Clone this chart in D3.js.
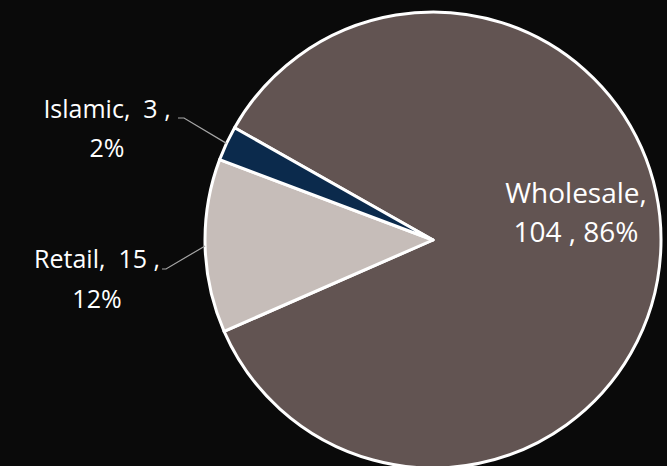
<!DOCTYPE html>
<html><head><meta charset="utf-8">
<script src="https://cdn.jsdelivr.net/npm/d3@7"></script>
<style>html,body{margin:0;padding:0;background:#0a0a0a;}svg{display:block;}</style>
</head><body>
<svg id="c" width="667" height="466"></svg>
<script>
const categories = ["Wholesale", "Retail", "Islamic"];
const values = [104, 15, 3];
const percents = ["86%", "12%", "2%"];
const colors = ["#625452", "#c6bdb9", "#0b2a4c"];

const svg = d3.select("#c");
svg.append("rect").attr("width", 667).attr("height", 466).attr("fill", "#0a0a0a");
const cx = 433, cy = 240, R = 228;
const g = svg.append("g").attr("transform", `translate(${cx},${cy})`);
const pie = d3.pie().sort(null).startAngle(-60.5 * Math.PI / 180).endAngle((360 - 60.5) * Math.PI / 180);
const arcs = pie(values);
const arc = d3.arc().innerRadius(0).outerRadius(R);
g.selectAll("path").data(arcs).join("path")
  .attr("d", arc).attr("fill", (d, i) => colors[i])
  .attr("stroke", "#fff").attr("stroke-width", 3).attr("stroke-linejoin", "round");

const font = "'Open Sans', 'Noto Sans', sans-serif";
const labels = [
  {i: 0, x: 576, y1: 203, y2: 242, size: 28, l1: categories[0] + ",", l2: values[0] + " , " + percents[0]},
  {i: 1, x: 97, y1: 268, y2: 308, size: 25, l1: categories[1] + ",  " + values[1] + " ,", l2: percents[1], lead: [[162, 269], [166, 269]]},
  {i: 2, x: 107, y1: 118, y2: 157, size: 25, l1: categories[2] + ",  " + values[2] + " ,", l2: percents[2], lead: [[178, 118], [184, 118]]}
];
labels.forEach(L => {
  const d = arcs[L.i];
  if (L.lead) {
    const a = (d.startAngle + d.endAngle) / 2;
    const end = [cx + R * Math.sin(a), cy - R * Math.cos(a)];
    svg.append("polyline")
      .attr("points", [...L.lead, end].map(p => p.join(",")).join(" "))
      .attr("fill", "none").attr("stroke", "#a6a6a6").attr("stroke-width", 1.2);
  }
  const t = svg.append("text").attr("text-anchor", "middle").attr("fill", "#fff")
    .attr("font-family", font).attr("font-size", L.size);
  t.append("tspan").attr("x", L.x).attr("y", L.y1).attr("xml:space", "preserve").text(L.l1);
  t.append("tspan").attr("x", L.x).attr("y", L.y2).text(L.l2);
});
</script>
</body></html>
